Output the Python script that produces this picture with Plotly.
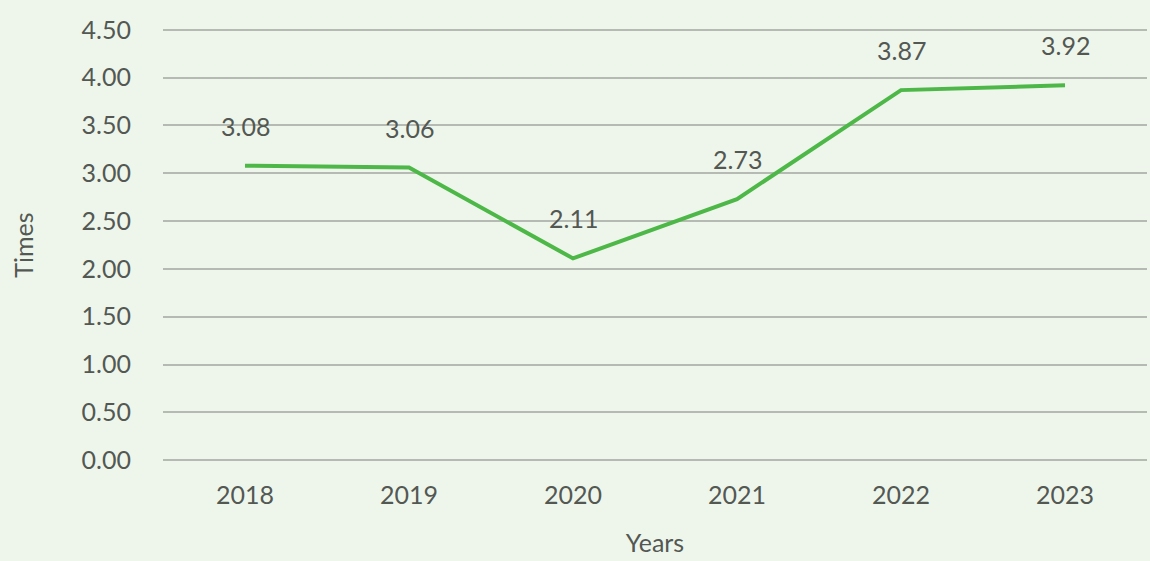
import plotly.graph_objects as go

years = ["2018", "2019", "2020", "2021", "2022", "2023"]
times = [3.08, 3.06, 2.11, 2.73, 3.87, 3.92]
y_ticks = [0, 0.5, 1.0, 1.5, 2.0, 2.5, 3.0, 3.5, 4.0, 4.5]

bg = "#EEF6EB"
text_color = "#535853"
grid_color = "#B5BAB2"
font_family = "Lato, 'Open Sans', sans-serif"

# numeric positions for the year categories
xpos = list(range(len(years)))

fig = go.Figure()
fig.add_trace(go.Scatter(
    x=xpos, y=times, mode="lines",
    line=dict(color="#4DB848", width=4),
    customdata=years,
    hovertemplate="%{customdata}: %{y:.2f}<extra></extra>",
))

for xp, v in zip(xpos, times):
    fig.add_annotation(
        x=xp, y=v, text=f"{v:.2f}", showarrow=False,
        yshift=40, font=dict(size=25, color=text_color, family=font_family),
    )

fig.update_layout(
    width=1150, height=561,
    margin=dict(l=163, r=3, t=27, b=98),
    paper_bgcolor=bg, plot_bgcolor=bg,
    showlegend=False,
    font=dict(family=font_family, color=text_color, size=25),
    xaxis=dict(
        range=[-0.5, len(years) - 0.5],
        tickvals=xpos, ticktext=years,
        title=dict(text="Years", font=dict(size=25), standoff=26),
        showgrid=False, zeroline=False, showline=False,
        ticks="outside", ticklen=10, tickcolor=bg,
        tickfont=dict(size=25),
    ),
    yaxis=dict(
        title=dict(text="Times", font=dict(size=25), standoff=40),
        range=[-0.03, 4.53], tickvals=y_ticks,
        tickformat=".2f",
        showgrid=True, gridcolor=grid_color, gridwidth=2,
        zeroline=True, zerolinecolor=grid_color, zerolinewidth=2,
        showline=False,
        ticks="outside", ticklen=26, tickcolor=bg,
        tickfont=dict(size=25),
    ),
)

fig.write_html("out.html")
